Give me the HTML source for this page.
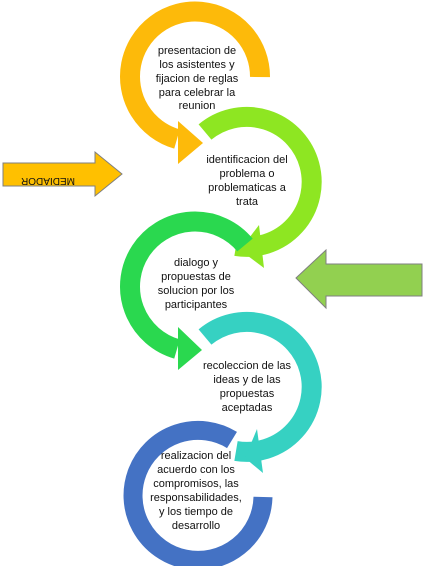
<!DOCTYPE html>
<html><head><meta charset="utf-8"><style>
html,body{margin:0;padding:0;background:#fff;}
svg{display:block}
text{font-family:"Liberation Sans",sans-serif;font-size:11px;fill:#111;text-anchor:middle}
</style></head><body>
<svg width="426" height="566" viewBox="0 0 426 566" xmlns="http://www.w3.org/2000/svg">
<!-- orange -->
<path d="M260 77 A65 65 0 1 0 177 139" fill="none" stroke="#FDBA0A" stroke-width="20"/>
<polygon points="178,121 178,164 203,143" fill="#FDBA0A"/>
<!-- lime -->
<path d="M205 132 A65 65 0 1 1 236 246" fill="none" stroke="#8EE622" stroke-width="20"/>
<polygon points="259,225 264,268 240,250" fill="#8EE622"/>
<!-- green -->
<path d="M245 245 A65 65 0 1 0 177 349" fill="none" stroke="#2AD84F" stroke-width="20"/>
<polygon points="178,327 178,370 202,350" fill="#2AD84F"/>
<!-- teal -->
<path d="M205 337 A65 65 0 1 1 236 451" fill="none" stroke="#36D1C2" stroke-width="20"/>
<polygon points="257,429 263,473 245,458" fill="#36D1C2"/>
<!-- blue -->
<path d="M232 440 A65 65 0 1 0 263 497" fill="none" stroke="#4472C4" stroke-width="19"/>
<!-- mediador arrow -->
<polygon points="3,163 95,163 95,152 122,174 95,196 95,186 3,186" fill="#FFC000" stroke="#7f7f7f" stroke-width="1"/>
<text x="48" y="170" transform="rotate(180 48 174)" style="font-size:10px">MEDIADOR</text>
<!-- right arrow -->
<polygon points="296,278 326,250 326,264 422,264 422,296 326,296 326,308" fill="#92D050" stroke="#7f7f7f" stroke-width="1"/>
<!-- texts -->
<text x="197" y="54">presentacion de</text>
<text x="197" y="68">los asistentes y</text>
<text x="197" y="82">fijacion de reglas</text>
<text x="197" y="96">para celebrar la</text>
<text x="197" y="109">reunion</text>
<text x="247" y="163">identificacion del</text>
<text x="247" y="177">problema o</text>
<text x="247" y="191">problematicas a</text>
<text x="247" y="205">trata</text>
<text x="196" y="266">dialogo y</text>
<text x="196" y="280">propuestas de</text>
<text x="196" y="294">solucion por los</text>
<text x="196" y="308">participantes</text>
<text x="247" y="369">recoleccion de las</text>
<text x="247" y="383">ideas y de las</text>
<text x="247" y="397">propuestas</text>
<text x="247" y="411">aceptadas</text>
<text x="196" y="459">realizacion del</text>
<text x="196" y="473">acuerdo con los</text>
<text x="196" y="487">compromisos, las</text>
<text x="196" y="501">responsabilidades,</text>
<text x="196" y="515">y los tiempo de</text>
<text x="196" y="529">desarrollo</text>
</svg>
</body></html>
